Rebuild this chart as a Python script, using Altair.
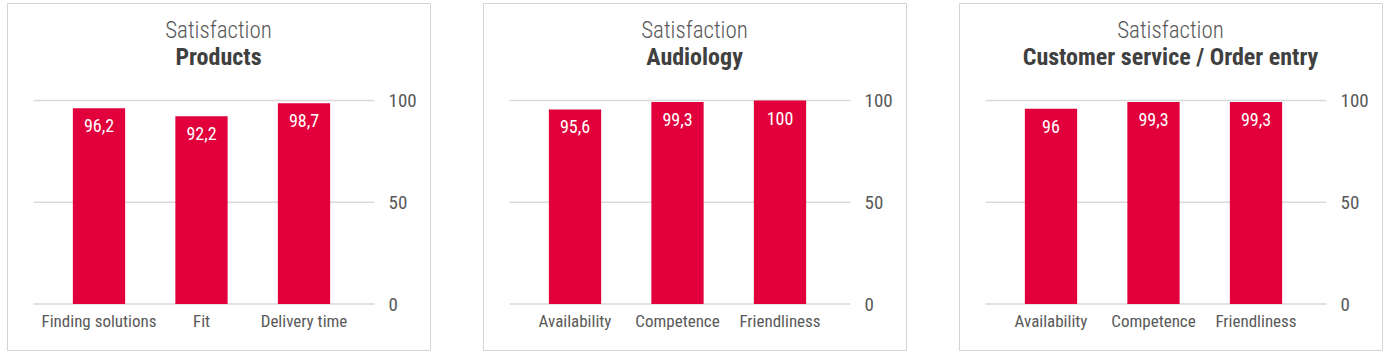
import altair as alt
import pandas as pd

title_main = "Satisfaction"
panel_titles = ["Products", "Audiology", "Customer service / Order entry"]
categories = [
    ["Finding solutions", "Fit", "Delivery time"],
    ["Availability", "Competence", "Friendliness"],
    ["Availability", "Competence", "Friendliness"],
]
values = [
    [96.2, 92.2, 98.7],
    [95.6, 99.3, 100],
    [96, 99.3, 99.3],
]
grid_ticks = [0, 50, 100]

BAR_COLOR = "#E1003C"
GRID_COLOR = "#D9D9D9"
TEXT_COLOR = "#595959"
FONT = "Roboto Condensed, Liberation Sans Narrow, DejaVu Sans Condensed, sans-serif"

W, H = 423, 347


def panel(sub, cats, vals):
    df = pd.DataFrame({"cat": cats, "value": vals})
    grid_df = pd.DataFrame({"value": grid_ticks})
    xscale = alt.Scale(domain=cats, range=[40.75, 348.25], paddingInner=0.49, paddingOuter=0.245)
    xaxis = alt.Axis(
        title=None, orient="bottom", offset=-(H - 301), domain=False, ticks=False,
        labelAngle=0, labelFont=FONT, labelFontSize=17, labelColor=TEXT_COLOR,
        labelPadding=9, grid=False,
    )
    yscale = alt.Scale(domain=[0, 100], range=[301, 97.5])
    yaxis = alt.Axis(
        title=None, orient="right", offset=-(W - 367), values=grid_ticks,
        domain=False, ticks=False, grid=False, labelFont=FONT, labelFontSize=19,
        labelColor=TEXT_COLOR, labelPadding=14,
    )
    grid = alt.Chart(grid_df).mark_rule(color=GRID_COLOR, strokeWidth=1.5).encode(
        y=alt.Y("value:Q", scale=yscale, axis=yaxis),
        x=alt.value(26.5),
        x2=alt.value(367.5),
    )
    bars = alt.Chart(df).mark_bar(color=BAR_COLOR).encode(
        x=alt.X("cat:N", sort=cats, scale=xscale, axis=xaxis),
        y=alt.Y("value:Q", scale=yscale, axis=yaxis),
    )
    labels = alt.Chart(df).transform_calculate(
        lab="replace(toString(datum.value), '.', ',')"
    ).mark_text(color="white", font=FONT, fontSize=18, baseline="middle", dy=19).encode(
        x=alt.X("cat:N", sort=cats, scale=xscale, axis=xaxis),
        y=alt.Y("value:Q", scale=yscale, axis=yaxis),
        text="lab:N",
    )
    return alt.layer(grid, bars, labels).properties(
        width=W,
        height=H,
        title=alt.TitleParams(
            text=title_main,
            subtitle=sub,
            anchor="middle",
            frame="group",
            offset=-67,
            font=FONT,
            fontSize=23,
            fontWeight=300,
            color=TEXT_COLOR,
            subtitleFont=FONT,
            subtitleFontSize=24,
            subtitleFontWeight="bold",
            subtitleColor="#404040",
            subtitlePadding=3,
        ),
    )


chart = alt.hconcat(
    *[panel(t, c, v) for t, c, v in zip(panel_titles, categories, values)],
    spacing=51,
).properties(
    padding={"left": 6, "top": 2, "right": 2, "bottom": 2},
    background="white",
).configure_view(stroke="#D4D4D4", strokeWidth=1)

chart.save("out.html", embed_options={"renderer": "svg", "actions": False})
